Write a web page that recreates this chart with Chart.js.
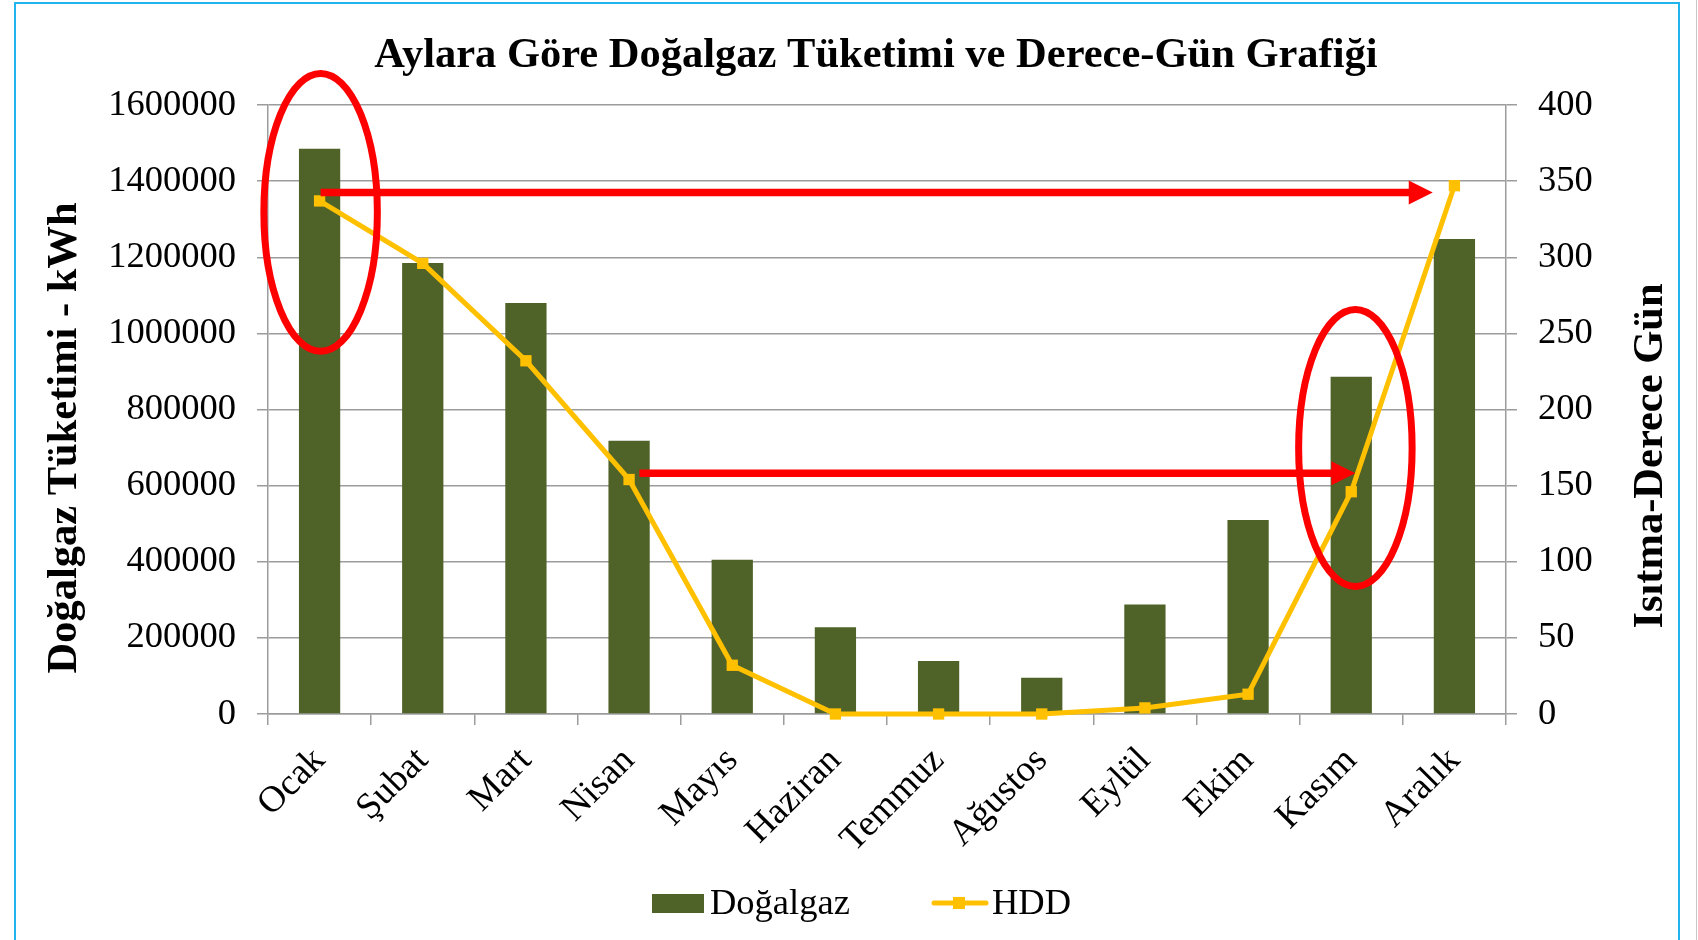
<!DOCTYPE html>
<html><head><meta charset="utf-8">
<script src="https://cdn.jsdelivr.net/npm/chart.js@4.4.1/dist/chart.umd.min.js"></script>
<style>html,body{margin:0;padding:0;background:#fff;overflow:hidden}canvas{display:block}</style>
</head><body>
<canvas id="c" width="1698" height="940"></canvas>
<script>
// ---- data ----
const months = ['Ocak','Şubat','Mart','Nisan','Mayıs','Haziran','Temmuz','Ağustos','Eylül','Ekim','Kasım','Aralık'];
const gasKWh = [1485000,1185000,1080000,718000,405000,228000,139000,95000,288000,510000,886000,1248000];
const hddValues = [337,296,232,154,32,0,0,0,4,13,146,347];
const leftTickValues = [0,200000,400000,600000,800000,1000000,1200000,1400000,1600000];
const rightTickValues = [0,50,100,150,200,250,300,350,400];
const seriesNames = ['Doğalgaz','HDD'];
const chartTitle = 'Aylara Göre Doğalgaz Tüketimi ve Derece-Gün Grafiği';
const leftAxisTitle = 'Doğalgaz Tüketimi - kWh';
const rightAxisTitle = 'Isıtma-Derece Gün';
// highlight annotations (category index, value on axis)
const ellipseCategories = [0.01, 10.04];
const ellipseValues = [1318000, 699000];      // left axis units (centre)
const ellipseHalfHeights = [365000, 364000];  // left axis units
const arrowFromCategories = [0.01, 3.1];
const arrowToCategories = [10.79, 10.04];
const arrowHdd = [342.6, 158.2];               // right axis units

const GREEN = '#4F6228', GOLD = '#FFC000', RED = '#FF0000', GRID = '#9C9C9C';
const FONT = "'Liberation Serif','Times New Roman',serif";

const decor = {
  id: 'decor',
  beforeDraw(chart) {
    const ctx = chart.ctx;
    ctx.save();
    ctx.fillStyle = '#fff';
    ctx.fillRect(0, 0, chart.width, chart.height);
    ctx.strokeStyle = '#22B4EE';
    ctx.lineWidth = 2;
    ctx.strokeRect(15, 3, 1664, 960);
    ctx.strokeStyle = '#C8C8C8';
    ctx.lineWidth = 1;
    ctx.beginPath(); ctx.moveTo(1696.5, 0); ctx.lineTo(1696.5, 940); ctx.stroke();
    ctx.restore();
  },
  afterDatasetsDraw(chart) {
    const ctx = chart.ctx, x = chart.scales.x, y = chart.scales.y, y1 = chart.scales.y1;
    const catW = x.getPixelForValue(1) - x.getPixelForValue(0);
    ctx.save();
    ctx.strokeStyle = RED; ctx.fillStyle = RED;
    ctx.lineWidth = 7;
    for (let i = 0; i < ellipseCategories.length; i++) {
      const cx = x.getPixelForValue(ellipseCategories[i]);
      const cy = y.getPixelForValue(ellipseValues[i]);
      const ry = Math.abs(y.getPixelForValue(ellipseValues[i] + ellipseHalfHeights[i]) - cy);
      const rx = 0.55 * catW;
      ctx.beginPath(); ctx.ellipse(cx, cy, rx, ry, 0, 0, Math.PI * 2); ctx.stroke();
    }
    for (let i = 0; i < arrowHdd.length; i++) {
      const x0 = x.getPixelForValue(arrowFromCategories[i]);
      const x1 = x.getPixelForValue(arrowToCategories[i]);
      const yy = y1.getPixelForValue(arrowHdd[i]);
      const head = 24, hw = 12;
      ctx.lineWidth = 7.5;
      ctx.beginPath(); ctx.moveTo(x0, yy); ctx.lineTo(x1 - head + 2, yy); ctx.stroke();
      ctx.beginPath(); ctx.moveTo(x1, yy); ctx.lineTo(x1 - head, yy - hw); ctx.lineTo(x1 - head, yy + hw); ctx.closePath(); ctx.fill();
    }
    ctx.restore();
  },
  afterDraw(chart) {
    const ctx = chart.ctx;
    ctx.save();
    ctx.fillStyle = '#000';
    // title
    ctx.font = "bold 42.5px " + FONT;
    ctx.textAlign = 'center'; ctx.textBaseline = 'alphabetic';
    ctx.fillText(chartTitle, 876, 67);
    // axis titles
    ctx.font = "bold 42.5px " + FONT;
    ctx.save(); ctx.translate(76, 438); ctx.rotate(-Math.PI / 2);
    ctx.fillText(leftAxisTitle, 0, 0); ctx.restore();
    ctx.save(); ctx.translate(1662, 456); ctx.rotate(-Math.PI / 2);
    ctx.fillText(rightAxisTitle, 0, 0); ctx.restore();
    // legend
    ctx.font = "36.5px " + FONT;
    ctx.textAlign = 'left';
    ctx.fillStyle = GREEN;
    ctx.fillRect(652, 894, 52, 19);
    ctx.fillStyle = '#000';
    ctx.fillText(seriesNames[0], 710, 914);
    ctx.strokeStyle = GOLD; ctx.lineWidth = 5; ctx.lineCap = 'round';
    ctx.beginPath(); ctx.moveTo(934, 903); ctx.lineTo(986, 903); ctx.stroke();
    ctx.fillStyle = GOLD; ctx.fillRect(953, 897, 12, 12);
    ctx.fillStyle = '#000';
    ctx.fillText(seriesNames[1], 992, 914);
    ctx.restore();
  }
};

new Chart(document.getElementById('c'), {
  type: 'bar',
  data: {
    labels: months,
    datasets: [
      { type: 'line', label: seriesNames[1], data: hddValues, yAxisID: 'y1', order: 0,
        borderColor: GOLD, backgroundColor: GOLD, borderWidth: 5, tension: 0,
        pointStyle: 'rect', pointRadius: 8, pointBorderWidth: 0,
        pointBackgroundColor: GOLD, clip: false },
      { type: 'bar', label: seriesNames[0], data: gasKWh, yAxisID: 'y', order: 1,
        backgroundColor: GREEN, borderWidth: 0, barPercentage: 0.4, categoryPercentage: 1 }
    ]
  },
  options: {
    responsive: false, devicePixelRatio: 1, animation: false,
    layout: { padding: { top: 105, left: 0, right: 0, bottom: 0 } },
    plugins: { legend: { display: false }, title: { display: false }, tooltip: { enabled: false } },
    scales: {
      x: {
        afterFit(s) { s.height = 226; },
        grid: { drawOnChartArea: false, drawTicks: true, tickLength: 11, color: GRID, lineWidth: 1.5, offset: true },
        border: { display: true, color: GRID, width: 1.5 },
        ticks: { color: '#000', font: { family: FONT, size: 37 }, minRotation: 45, maxRotation: 45, padding: 14, autoSkip: false }
      },
      y: {
        position: 'left', min: 0, max: 1600000,
        afterFit(s) { s.width = 268; },
        afterBuildTicks(s) { s.ticks = leftTickValues.map(v => ({ value: v })); },
        grid: { color: GRID, lineWidth: 1.5, tickLength: 11, drawTicks: true },
        border: { display: true, color: GRID, width: 1.5 },
        ticks: { color: '#000', font: { family: FONT, size: 36.5 }, padding: 21, callback: v => String(v) }
      },
      y1: {
        position: 'right', min: 0, max: 400,
        afterFit(s) { s.width = 192; },
        afterBuildTicks(s) { s.ticks = rightTickValues.map(v => ({ value: v })); },
        grid: { drawOnChartArea: false, color: GRID, lineWidth: 1.5, tickLength: 11, drawTicks: true },
        border: { display: true, color: GRID, width: 1.5 },
        ticks: { color: '#000', font: { family: FONT, size: 36.5 }, padding: 21, callback: v => String(v) }
      }
    }
  },
  plugins: [decor]
});
</script>
</body></html>
